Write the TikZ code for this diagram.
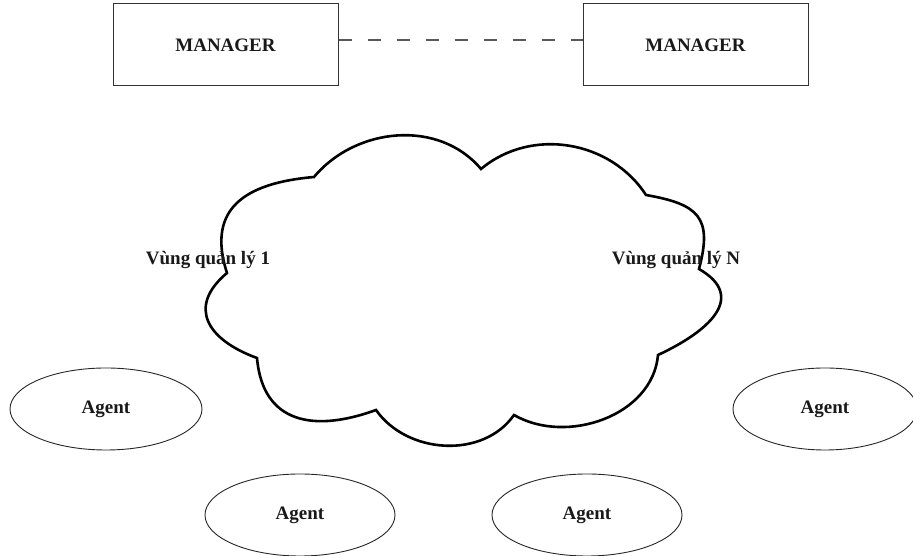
\documentclass[tikz,border=0pt]{standalone}
\usepackage{fontspec}
\setmainfont{Liberation Serif}
\usetikzlibrary{shapes.geometric}
\begin{document}
\begin{tikzpicture}[x=1pt,y=1pt,
  lbl/.style={font=\fontsize{19}{22}\selectfont\bfseries, text=black!90},
  mgrbox/.style={draw=black!80, line width=1pt, minimum width=225pt, minimum height=82pt, inner sep=0pt, lbl},
  agentell/.style={ellipse, draw=black!85, line width=0.9pt, inner sep=0pt, lbl},
  cloudline/.style={draw=black, line width=2.6pt, line join=miter}
]
\useasboundingbox (0,0) rectangle (913,556);
% managers
\node[mgrbox] (m1) at (225.5,511) {MANAGER};
\node[mgrbox] (m2) at (695.5,511) {MANAGER};
\draw[black!65, line width=1.1pt, dash pattern=on 13pt off 16pt] ([yshift=5pt]m1.east) -- ([yshift=5pt]m2.west);
% cloud
\coordinate (c1) at (314,379);
\coordinate (c2) at (481,387);
\coordinate (c3) at (646,361);
\coordinate (c4) at (699,287);
\coordinate (c5) at (658,201);
\coordinate (c6) at (514,141);
\coordinate (c7) at (376,146);
\coordinate (c8) at (257,198);
\coordinate (c9) at (227,283);
\draw[cloudline]
  (c1) to[out=50,in=130] (c2)
       to[out=40,in=123] (c3)
       to[out=-10,in=75,looseness=1.5] (c4)
       to[out=-30,in=25,looseness=1.5] (c5)
       to[out=-95,in=-30] (c6)
       to[out=-125,in=-55] (c7)
       to[out=-160,in=-85,looseness=1.3] (c8)
       to[out=160,in=-140,looseness=1.5] (c9)
       to[out=108,in=185,looseness=1.35] (c1) -- cycle;
% labels
\node[lbl, anchor=base] (v1) at (208,291) {Vùng quản lý 1};
\node[lbl, anchor=base] (vn) at (676,291) {Vùng quản lý N};
% agents
\node[agentell, minimum width=192pt, minimum height=82pt] (a1) at (106,147) {Agent};
\node[agentell, minimum width=190pt, minimum height=82pt] (a2) at (300,41) {Agent};
\node[agentell, minimum width=190pt, minimum height=82pt] (a3) at (587,41) {Agent};
\node[agentell, minimum width=184pt, minimum height=82pt] (a4) at (825,147) {Agent};
\end{tikzpicture}
\end{document}
